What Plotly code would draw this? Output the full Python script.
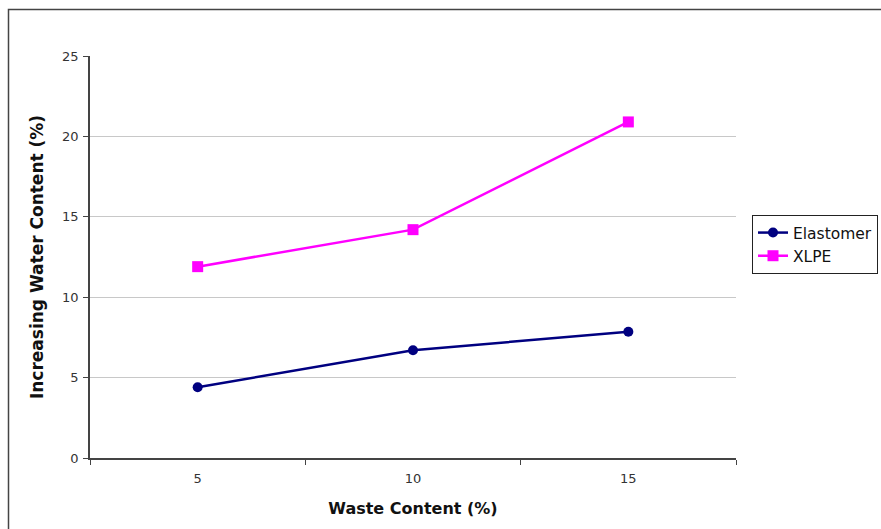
import plotly.graph_objects as go

waste_content = ["5", "10", "15"]
elastomer = [4.4, 6.7, 7.85]
xlpe = [11.9, 14.2, 20.9]
y_ticks = [0, 5, 10, 15, 20, 25]

W, H = 881, 529
L, R, T, B = 90, 881 - 736, 56, 529 - 458
pw, ph = W - L - R, H - T - B

def px_x(p):
    return (p - L) / pw

def px_y(p):
    return (H - B - p) / ph

fig = go.Figure()
fig.add_trace(go.Scatter(
    x=waste_content, y=elastomer, name="Elastomer", mode="lines+markers",
    line=dict(color="#000080", width=2.5),
    marker=dict(symbol="circle", size=10, color="#000080"),
))
fig.add_trace(go.Scatter(
    x=waste_content, y=xlpe, name="XLPE", mode="lines+markers",
    line=dict(color="#FF00FF", width=2.5),
    marker=dict(symbol="square", size=11, color="#FF00FF"),
))

fig.update_layout(
    width=W, height=H,
    margin=dict(l=L, r=R, t=T, b=B, autoexpand=False),
    paper_bgcolor="white", plot_bgcolor="white",
    font=dict(family="DejaVu Sans", color="#222222"),
    showlegend=True,
    legend=dict(
        x=px_x(752), y=px_y(215), xanchor="left", yanchor="top",
        bordercolor="#222222", borderwidth=1, bgcolor="white",
        font=dict(size=15.5, family="DejaVu Sans", color="#111111"),
        tracegroupgap=0,
    ),
    xaxis=dict(
        type="category", range=[-0.5, 2.5], tickson="boundaries",
        ticks="outside", ticklen=5, tickcolor="#444444",
        showline=True, linecolor="#444444", linewidth=1.5,
        showgrid=False, zeroline=False,
        ticklabelstandoff=8,
        tickfont=dict(size=13, color="#333333"),
        title=dict(text="<b>Waste Content (%)</b>", standoff=17,
                   font=dict(size=16, color="#111111")),
    ),
    yaxis=dict(
        range=[0, 25], tickvals=y_ticks,
        ticks="outside", ticklen=5, tickcolor="#444444",
        showline=True, linecolor="#444444", linewidth=1.5,
        showgrid=True, gridcolor="#c8c8c8", gridwidth=1.2,
        zeroline=False,
        ticklabelstandoff=2,
        tickfont=dict(size=13, color="#333333"),
        title=dict(text="<b>Increasing Water Content (%)</b>", standoff=14,
                   font=dict(size=17, color="#111111")),
    ),
    shapes=[dict(
        type="rect", xref="paper", yref="paper",
        x0=px_x(8.5), x1=px_x(900), y0=px_y(560), y1=px_y(9.5),
        line=dict(color="#444444", width=1.5), fillcolor="rgba(0,0,0,0)",
        layer="below",
    )],
)

fig.write_html("out.html", config={"displayModeBar": False},
               post_script="document.body.style.margin='0';")
